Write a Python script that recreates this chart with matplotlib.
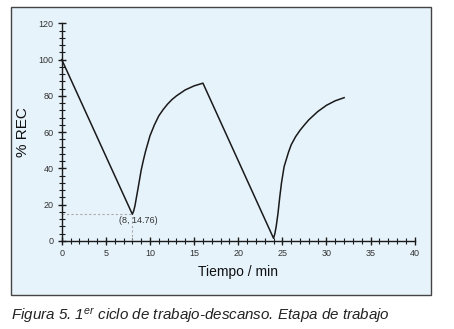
import numpy as np
import matplotlib.pyplot as plt
from matplotlib.patches import Rectangle
from matplotlib.ticker import MultipleLocator

plt.rcParams["font.family"] = ["Liberation Sans", "DejaVu Sans"]
plt.rcParams["mathtext.fontset"] = "custom"
plt.rcParams["mathtext.rm"] = "Liberation Sans"
plt.rcParams["mathtext.it"] = "Liberation Sans:italic"

# Data (time in min, % REC)
work1_t = [0, 8]
work1_v = [100, 14.76]
rest1_t = [8, 8.15, 8.3, 8.5, 8.7, 9, 9.25, 9.5, 10, 10.5, 11, 11.5, 12, 12.5,
           13, 14, 15, 16]
rest1_v = [14.76, 16.5, 19.5, 25, 30.5, 39, 44.5, 49.5, 58, 64, 69, 72.5, 75.5,
           78, 80, 83.3, 85.5, 87]
work2_t = [16, 24]
work2_v = [87, 1.5]
rest2_t = [24, 24.15, 24.3, 24.5, 24.7, 24.9, 25.2, 25.7, 26, 26.5, 27, 27.5,
           28, 29, 30, 31, 32]
rest2_v = [1.5, 4, 8, 15, 24, 32, 41, 49, 53, 57.5, 61, 64, 66.8, 71.3, 74.8,
           77.3, 79]

min_point = (8, 14.76)

BOX_COLOR = "#e7f3fb"
LINE_COLOR = "#1a1a1a"
TEXT_COLOR = "#333333"

fig = plt.figure(figsize=(4.54, 3.29), dpi=100)

# light blue frame behind the plot
fig.patches.append(Rectangle((11 / 454, 1 - 295 / 329), 420 / 454, 288 / 329,
                             transform=fig.transFigure, facecolor=BOX_COLOR,
                             edgecolor="#444444", linewidth=1.0, zorder=-5))

ax = fig.add_axes([0.136, 0.2675, 0.7775, 0.6617])
ax.set_zorder(2)
ax.set_facecolor("none")

t = work1_t + rest1_t[1:] + work2_t[1:] + rest2_t[1:]
v = work1_v + rest1_v[1:] + work2_v[1:] + rest2_v[1:]
ax.plot(t, v, color=LINE_COLOR, lw=1.1, clip_on=False, zorder=3,
        solid_joinstyle="round")

# guide lines to the minimum
mx, my = min_point
ax.plot([0, mx], [my, my], color="#aaaaaa", lw=0.8, ls=(0, (2, 2)), zorder=2)
ax.plot([mx, mx], [0, my], color="#aaaaaa", lw=0.8, ls=(0, (2, 2)), zorder=2)
ax.text(mx + 0.65, my - 3.5, f"({mx}, {my})", fontsize=6.5, color=TEXT_COLOR,
        ha="center", va="center")

ax.set_xlim(0, 40)
ax.set_ylim(0, 120)
ax.xaxis.set_major_locator(MultipleLocator(5))
ax.xaxis.set_minor_locator(MultipleLocator(1))
ax.yaxis.set_major_locator(MultipleLocator(20))
ax.yaxis.set_minor_locator(MultipleLocator(4))
ax.tick_params(which="major", direction="inout", length=6, width=1.0,
               labelsize=6.5, labelcolor=TEXT_COLOR, color=LINE_COLOR, pad=3)
ax.tick_params(which="minor", direction="inout", length=4, width=0.8,
               color=LINE_COLOR)
for s in ["top", "right"]:
    ax.spines[s].set_visible(False)
for s in ["left", "bottom"]:
    ax.spines[s].set_color(LINE_COLOR)
    ax.spines[s].set_linewidth(1.0)

ax.set_xlabel("Tiempo / min", fontsize=10, color="#111111")
ax.set_ylabel("% REC", fontsize=11, color="#111111")
ax.xaxis.set_label_coords(0.5, -0.142)
ax.yaxis.set_label_coords(-0.11, 0.5)
ax.xaxis.label.set_va("center")
ax.yaxis.label.set_va("center")

fig.text(11 / 454, 1 - 316 / 329,
         r"Figura 5. 1$^{\mathit{er}}$ ciclo de trabajo-descanso. Etapa de trabajo",
         fontsize=10.9, style="italic", color="#222222", va="center", ha="left")

fig.savefig("out.png", dpi=100)
